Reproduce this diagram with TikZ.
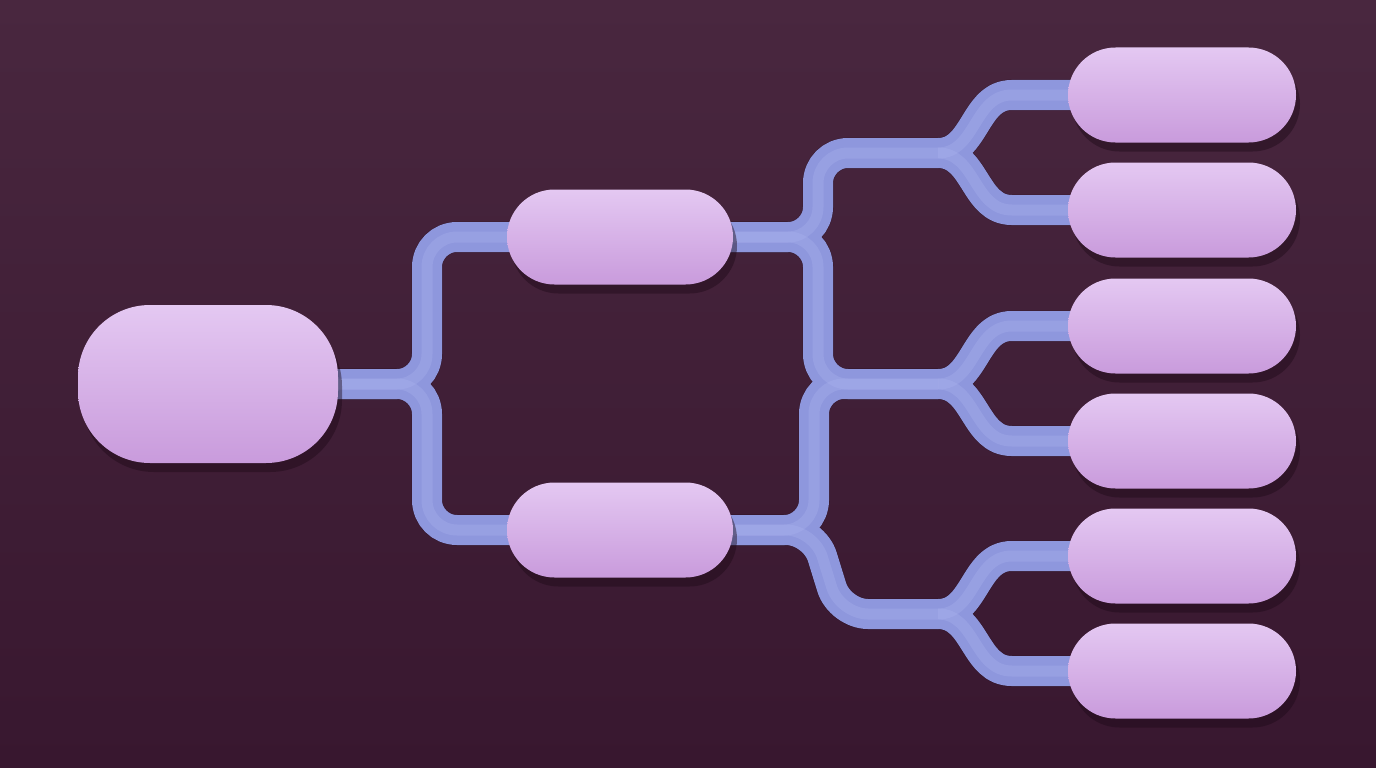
\documentclass[tikz,border=0pt]{standalone}
\usetikzlibrary{shadows,calc}
\definecolor{bgtop}{HTML}{49273F}
\definecolor{bgbot}{HTML}{38172F}
\definecolor{pilltop}{HTML}{E4C8F2}
\definecolor{pillmid}{HTML}{D6B0E7}
\definecolor{pillbot}{HTML}{C99BDC}
\definecolor{tubec}{HTML}{8E97DD}
\definecolor{tubehi}{HTML}{AEB5F0}
\definecolor{shad}{HTML}{1E0A18}
\newcommand\tubenet[1]{%
  \draw[#1, rounded corners=30] (root.center) -- (j1) |- (a.center);
  \draw[#1, rounded corners=30] (root.center) -- (j1) |- (b.center);
  \draw[#1, rounded corners=30] (a.center) -- (j2) |- (s1);
  \draw[#1, rounded corners=30] (a.center) -- (j2) |- (s2);
  \draw[#1, rounded corners=30] (b.center) -- (j5) |- (s2);
  \draw[#1, rounded corners=28] (b.center) -- (j5) -- (j6) -- (s3);
  \draw[#1] (s1) .. controls +(38,0) and +(-38,0) .. ([xshift=-56pt]c1.west) -- (c1.center);
  \draw[#1] (s1) .. controls +(38,0) and +(-38,0) .. ([xshift=-56pt]c2.west) -- (c2.center);
  \draw[#1] (s2) .. controls +(38,0) and +(-38,0) .. ([xshift=-56pt]c3.west) -- (c3.center);
  \draw[#1] (s2) .. controls +(38,0) and +(-38,0) .. ([xshift=-56pt]c4.west) -- (c4.center);
  \draw[#1] (s3) .. controls +(38,0) and +(-38,0) .. ([xshift=-56pt]c5.west) -- (c5.center);
  \draw[#1] (s3) .. controls +(38,0) and +(-38,0) .. ([xshift=-56pt]c6.west) -- (c6.center);
}
\begin{document}
\begin{tikzpicture}[x=1pt,y=-1pt,
  pillbase/.style={rectangle, inner sep=0pt, top color=pilltop, middle color=pillmid, bottom color=pillbot,
    drop shadow={shadow xshift=4pt, shadow yshift=-9pt, opacity=0.45, fill=shad}},
  pill/.style={pillbase, rounded corners=47.5, minimum width=228, minimum height=95},
  rootpill/.style={pillbase, rounded corners=72, minimum width=260, minimum height=158},
  tubeshadow/.style={line width=31, draw=shad, opacity=0.35, shift={(4,8)}},
  tube/.style={line width=30, draw=tubec},
  tubehigh/.style={line width=11, draw=tubehi, opacity=0.3, shift={(-5,-5)}},
]
\useasboundingbox (0,0) rectangle (1376,768);
\shade[top color=bgtop, bottom color=bgbot] (0,0) rectangle (1376,768);
% node positions
\path (208,384) node[minimum width=260, minimum height=158] (root) {}
      (620,237) node[minimum width=226, minimum height=95] (a) {}
      (620,530) node[minimum width=226, minimum height=95] (b) {}
      (1182,95) node[minimum width=228, minimum height=95] (c1) {}
      (1182,210) node[minimum width=228, minimum height=95] (c2) {}
      (1182,326) node[minimum width=228, minimum height=95] (c3) {}
      (1182,441) node[minimum width=228, minimum height=95] (c4) {}
      (1182,556) node[minimum width=228, minimum height=95] (c5) {}
      (1182,671) node[minimum width=228, minimum height=95] (c6) {};
\coordinate (j1) at (427,384);
\coordinate (j2) at (818,237);
\coordinate (j5) at (814,530);
\coordinate (j6) at (840,614);
\coordinate (s1) at (938,153);
\coordinate (s2) at (938,384);
\coordinate (s3) at (938,614);
% tubes
\tubenet{tubeshadow}
\tubenet{tube}
\tubenet{tubehigh}
% pills
\node[rootpill] at (root) {};
\node[pill, minimum width=226] at (a) {};
\node[pill, minimum width=226] at (b) {};
\foreach \n in {c1,c2,c3,c4,c5,c6} \node[pill] at (\n) {};
\end{tikzpicture}
\end{document}
